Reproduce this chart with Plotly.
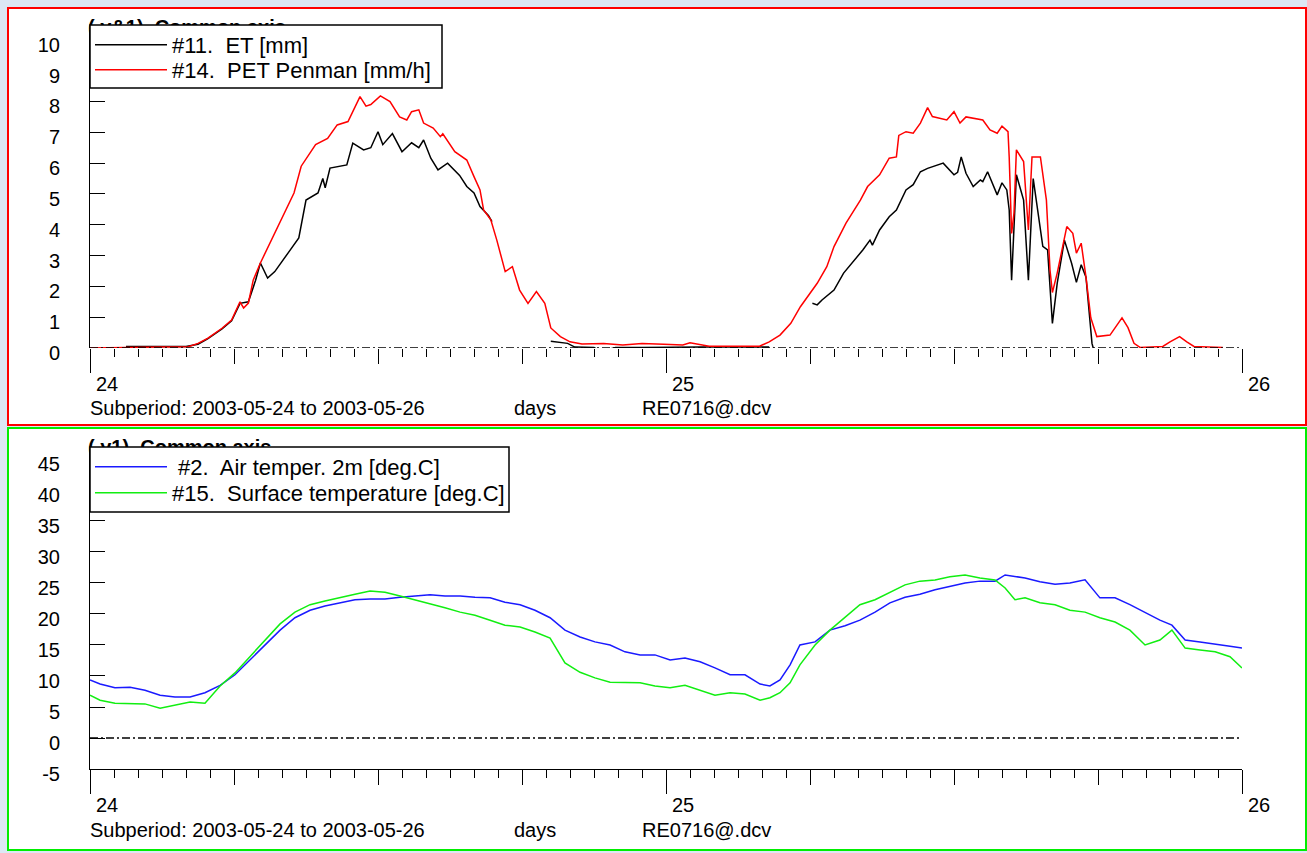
import plotly.graph_objects as go

# ---------------- data (hours from 2003-05-24 00:00) ----------------
et_hours = [1.5, 2, 3, 4, 4.5, 4.9, 5.5, 5.9, 6.25, 6.6, 6.9, 7.1, 7.4, 7.7, 8.25, 8.7, 9.0, 9.5, 9.7, 9.8,
            10.0, 10.7, 10.95, 11.4, 11.7, 12.0, 12.2, 12.6, 13.0, 13.4, 13.7, 13.9, 14.2, 14.5, 14.9,
            15.4, 15.7, 16.0, 16.25, 16.6, 16.75, 17.0,
            19.2, 19.5, 19.9, 20.2, 21.0, 21.2, 21.4, 21.6, 21.9, 23.0, 24.0, 25.5, 27.0, 28.3, 29.0,
            30.1, 30.3, 30.5, 31.0, 31.4, 31.8, 32.2, 32.5, 32.6, 32.9, 33.3, 33.6, 34.0, 34.3, 34.6,
            34.9, 35.3, 35.55, 36.0, 36.15, 36.3, 36.5, 36.8, 37.1, 37.2, 37.4, 37.8, 38.0, 38.2, 38.3,
            38.4, 38.6, 38.9, 39.1, 39.3, 39.7, 39.9, 40.1, 40.3, 40.6, 40.9, 41.1, 41.3, 41.5, 41.75, 41.8]
et_values = [0.05, 0.05, 0.05, 0.05, 0.12, 0.3, 0.62, 0.88, 1.45, 1.5, 2.2, 2.76, 2.27, 2.48, 3.08, 3.57, 4.8, 5.03, 5.5, 5.2,
             5.84, 5.94, 6.65, 6.43, 6.5, 7.02, 6.6, 6.96, 6.37, 6.66, 6.5, 6.75, 6.16, 5.78, 6.0,
             5.6, 5.24, 5.03, 4.59, 4.3, 4.1, None,
             0.22, 0.2, 0.15, 0.03, 0.02, -0.08, -0.1, -0.05, 0.02, 0.02, 0.03, 0.03, 0.03, 0.03, None,
             1.45, 1.4, 1.56, 1.88, 2.43, 2.8, 3.18, 3.5, 3.34, 3.83, 4.26, 4.48, 5.13, 5.3, 5.72,
             5.83, 5.94, 6.0, 5.62, 5.7, 6.2, 5.67, 5.24, 5.45, 5.4, 5.72, 4.97, 5.36, 5.13, 4.48,
             2.2, 5.62, 4.8, 2.2, 5.5, 3.3, 3.18, 0.8, 2.1, 3.5, 2.75, 2.13, 2.7, 2.3, 0.15, 0.0]

pet_hours = [0, 1, 1.5, 3, 4.1, 4.5, 4.9, 5.5, 5.9, 6.25, 6.4, 6.6, 6.8, 7.1, 7.7, 8.1, 8.5, 8.8, 9.4, 9.9,
             10.3, 10.75, 11.0, 11.25, 11.5, 11.7, 12.1, 12.5, 12.9, 13.2, 13.4, 13.7, 13.9, 14.3, 14.6,
             14.7, 15.2, 15.7, 16.0, 16.25, 16.4, 16.7, 16.95, 17.3, 17.6, 17.9, 18.25, 18.6, 18.95,
             19.2, 19.6, 20.0, 20.5, 21.4, 22.2, 23.0, 23.9, 24.7, 25.0, 25.8, 27.9, 28.3, 28.75, 29.2,
             29.6, 29.9, 30.3, 30.7, 31.0, 31.5, 32.1, 32.4, 32.9, 33.3, 33.6, 33.7, 34.0, 34.3, 34.6,
             34.9, 35.1, 35.7, 36.0, 36.25, 36.5, 37.2, 37.5, 37.8, 38.0, 38.25, 38.3, 38.4, 38.5, 38.6,
             38.9, 39.1, 39.25, 39.6, 39.85, 40.0, 40.1, 40.3, 40.7, 40.95, 41.1, 41.3, 41.5, 41.7,
             41.95, 42.5, 43.0, 43.25, 43.5, 43.75, 44.7, 45.0, 45.4, 45.7, 46.0, 47.2]
pet_values = [0, 0, 0.02, 0.03, 0.04, 0.15, 0.31, 0.64, 0.91, 1.5, 1.3, 1.46, 2.2, 2.76, 3.73, 4.38, 5.03, 5.9, 6.6, 6.8,
              7.24, 7.35, 7.73, 8.16, 7.85, 7.9, 8.18, 8.0, 7.5, 7.4, 7.67, 7.73, 7.3, 7.14, 6.86,
              6.95, 6.37, 6.1, 5.56, 5.13, 4.48, 4.16, 3.5, 2.48, 2.64, 1.88, 1.45, 1.83, 1.45,
              0.65, 0.37, 0.2, 0.13, 0.15, 0.1, 0.15, 0.12, 0.1, 0.17, 0.06, 0.06, 0.2, 0.42, 0.8,
              1.34, 1.67, 2.1, 2.64, 3.29, 4.05, 4.8, 5.24, 5.62, 6.16, 6.2, 6.9, 7.02, 6.97, 7.3,
              7.8, 7.51, 7.4, 7.67, 7.3, 7.5, 7.4, 7.08, 6.97, 7.2, 7.02, 6.2, 3.72, 4.38, 6.43,
              6.05, 3.83, 6.2, 6.2, 4.8, 2.53, 1.8, 2.43, 3.94, 3.72, 3.08, 3.4, 2.3, 0.98,
              0.37, 0.42, 0.98, 0.66, 0.15, 0.02, 0.05, 0.2, 0.37, 0.2, 0.05, 0.02]

temp_hours = [0, 0.42, 1.04, 1.67, 2.29, 2.92, 3.54, 4.17, 4.79, 5.42, 6.04, 6.67, 7.29, 7.92, 8.54, 9.17,
              9.79, 10.42, 11.04, 11.67, 12.29, 12.92, 13.54, 14.17, 14.79, 15.42, 16.04, 16.67, 17.29,
              17.92, 18.54, 19.17, 19.79, 20.42, 21.04, 21.67, 22.29, 22.92, 23.54, 24.17, 24.79, 25.42,
              26.04, 26.67, 27.29, 27.92, 28.33, 28.75, 29.17, 29.58, 30.21, 30.83, 31.46, 32.08, 32.71,
              33.33, 33.96, 34.58, 35.21, 35.83, 36.46, 37.08, 37.71, 38.13, 38.54, 38.96, 39.58, 40.21,
              40.83, 41.46, 42.08, 42.71, 43.33, 43.96, 44.58, 45.08, 45.63, 46.25, 46.88, 47.5, 48.0]
air_temp = [9.35, 8.7, 8.1, 8.2, 7.7, 6.9, 6.6, 6.6, 7.3, 8.5, 10.2, 12.6, 15.0, 17.4, 19.4, 20.6,
            21.3, 21.8, 22.3, 22.4, 22.4, 22.7, 22.9, 23.1, 22.9, 22.9, 22.7, 22.6, 21.9,
            21.5, 20.6, 19.4, 17.4, 16.3, 15.5, 15.0, 13.9, 13.4, 13.4, 12.6, 12.9, 12.3,
            11.3, 10.2, 10.2, 8.7, 8.4, 9.35, 11.8, 15.0, 15.5, 17.4, 18.1, 19.0, 20.3,
            21.8, 22.7, 23.2, 23.9, 24.4, 25.0, 25.3, 25.3, 26.3, 26.1, 25.8, 25.2, 24.8,
            25.0, 25.5, 22.6, 22.6, 21.5, 20.2, 19.0, 18.2, 15.8, 15.5, 15.2, 14.8, 14.5]
surf_temp = [6.9, 6.1, 5.6, 5.5, 5.5, 4.8, 5.3, 5.8, 5.6, 8.4, 10.5, 13.1, 15.8, 18.4, 20.3, 21.5,
             22.1, 22.7, 23.2, 23.7, 23.5, 22.9, 22.3, 21.6, 21.0, 20.3, 19.8, 19.0, 18.2,
             17.9, 17.1, 16.1, 12.1, 10.6, 9.7, 9.0, 8.9, 8.9, 8.4, 8.1, 8.5, 7.7,
             6.9, 7.3, 7.1, 6.1, 6.5, 7.3, 8.9, 11.8, 15.0, 17.4, 19.5, 21.5, 22.3,
             23.5, 24.7, 25.3, 25.5, 26.0, 26.3, 25.8, 25.5, 24.2, 22.3, 22.6, 21.8, 21.5,
             20.6, 20.3, 19.4, 18.7, 17.4, 15.0, 15.8, 17.4, 14.5, 14.2, 13.9, 13.1, 11.3]

day_ticks = [0, 24, 48]
day_labels = ["24", "25", "26"]
et_ticks = [0, 1, 2, 3, 4, 5, 6, 7, 8, 9, 10]
et_labels = ["0", "1", "2", "3", "4", "5", "6", "7", "8", "9", "10"]
t_ticks = [-5, 0, 5, 10, 15, 20, 25, 30, 35, 40, 45]
t_labels = ["-5", "0", "5", "10", "15", "20", "25", "30", "35", "40", "45"]

W, H = 1307, 853
FONT = "Liberation Sans, Arial, sans-serif"


def px(x):
    return x / W


def py(y):
    return 1 - y / H


fig = go.Figure()

fig.add_trace(go.Scatter(x=et_hours, y=et_values, mode="lines", name="#11.\u00a0 ET [mm]",
                         line=dict(color="#000000", width=1.5), xaxis="x", yaxis="y",
                         legend="legend", connectgaps=False))
fig.add_trace(go.Scatter(x=pet_hours, y=pet_values, mode="lines", name="#14.\u00a0 PET Penman [mm/h]",
                         line=dict(color="#ff0000", width=1.5), xaxis="x", yaxis="y", legend="legend3"))
fig.add_trace(go.Scatter(x=temp_hours, y=air_temp, mode="lines", name="\u00a0#2.\u00a0 Air temper. 2m [deg.C]",
                         line=dict(color="#1a1aff", width=1.5), xaxis="x2", yaxis="y2", legend="legend2"))
fig.add_trace(go.Scatter(x=temp_hours, y=surf_temp, mode="lines", name="#15.\u00a0 Surface temperature [deg.C]",
                         line=dict(color="#11ee11", width=1.5), xaxis="x2", yaxis="y2", legend="legend4"))

# carriers for the day-tick axes
fig.add_trace(go.Scatter(x=day_ticks, y=[None] * 3, mode="lines", xaxis="x3", yaxis="y",
                         showlegend=False, hoverinfo="skip"))
fig.add_trace(go.Scatter(x=day_ticks, y=[None] * 3, mode="lines", xaxis="x4", yaxis="y2",
                         showlegend=False, hoverinfo="skip"))

# panel titles (mostly hidden behind the legend boxes)
fig.add_trace(go.Scatter(x=[0], y=[0.5], mode="text", text=["(\u00a0y&1)\u00a0 Common axis"],
                         textposition="middle right", showlegend=False,
                         textfont=dict(family=FONT, size=20, color="black", weight="bold"),
                         xaxis="x5", yaxis="y5", hoverinfo="skip"))
fig.add_trace(go.Scatter(x=[0], y=[0.5], mode="text", text=["(\u00a0y1)\u00a0 Common axis"],
                         textposition="middle right", showlegend=False,
                         textfont=dict(family=FONT, size=20, color="black", weight="bold"),
                         xaxis="x6", yaxis="y6", hoverinfo="skip"))

xdom = [px(90), px(1242)]
tick_font = dict(family=FONT, size=20, color="black")

minor_common = dict(tick0=0, dtick=1, ticklen=8, ticks="outside", tickcolor="black", tickwidth=1, showgrid=False)


def main_x(anchor, show_line):
    return dict(domain=xdom, range=[0, 48], anchor=anchor, tickmode="linear", tick0=0, dtick=6,
                ticks="outside", ticklen=15, tickcolor="black", tickwidth=1, showticklabels=False,
                showline=show_line, linecolor="black", linewidth=1, showgrid=False, zeroline=False,
                minor=minor_common, fixedrange=True, automargin=False)


def day_x(anchor, over):
    return dict(overlaying=over, range=[0, 48], anchor=anchor, side="bottom", tickmode="array",
                tickvals=day_ticks, ticktext=day_labels, ticks="outside", ticklen=24, tickcolor="black",
                tickwidth=1, ticklabelshift=17, ticklabelstandoff=-6, tickfont=tick_font,
                showline=False, showgrid=False, zeroline=False, fixedrange=True, automargin=False)


def y_ax(dom, rng, vals, labels, anchor):
    return dict(domain=dom, range=rng, anchor=anchor, tickmode="array", tickvals=vals, ticktext=labels,
                ticks="inside", ticklen=15, tickcolor="black", tickwidth=1, showline=True,
                linecolor="black", linewidth=1, showgrid=False, zeroline=False, tickfont=tick_font,
                ticklabelshift=5, ticklabelstandoff=25, fixedrange=True, automargin=False)


def hidden_ax(dom, anchor):
    return dict(domain=dom, range=[0, 1], anchor=anchor, visible=False, fixedrange=True, automargin=False)


def legend_row(ycen):
    return dict(x=px(90), y=py(ycen), xanchor="left", yanchor="middle", bgcolor="rgba(0,0,0,0)",
                borderwidth=0, font=dict(family=FONT, size=22, color="black"), itemwidth=72)


fig.update_layout(
    width=W, height=H, margin=dict(l=0, r=0, t=0, b=0, pad=0, autoexpand=False),
    paper_bgcolor="#dce7f4", plot_bgcolor="rgba(0,0,0,0)",
    font=dict(family=FONT, size=20, color="black"),
    xaxis=main_x("y", False),
    xaxis3=day_x("y", "x"),
    yaxis=y_ax([py(348), py(30)], [0, 10.32], et_ticks, et_labels, "x"),
    xaxis2=main_x("y2", True),
    xaxis4=day_x("y2", "x2"),
    yaxis2=y_ax([py(769), py(449)], [-5, 46.61], t_ticks, t_labels, "x2"),
    xaxis5=hidden_ax([px(88), px(700)], "y5"),
    yaxis5=hidden_ax([py(48), py(10)], "x5"),
    xaxis6=hidden_ax([px(88), px(700)], "y6"),
    yaxis6=hidden_ax([py(468), py(430)], "x6"),
    legend=legend_row(45),
    legend3=legend_row(70),
    legend2=legend_row(467),
    legend4=legend_row(493),
    showlegend=True,
)

# panel frames
fig.add_shape(type="rect", xref="paper", yref="paper", x0=px(8), x1=px(1306), y0=py(425), y1=py(8),
              line=dict(color="#ff0000", width=2), fillcolor="white", layer="below")
fig.add_shape(type="rect", xref="paper", yref="paper", x0=px(8), x1=px(1306), y0=py(850), y1=py(428),
              line=dict(color="#00ee00", width=2), fillcolor="white", layer="below")

# legend frames (white boxes above the curves)
fig.add_shape(type="rect", xref="paper", yref="paper", x0=px(90), x1=px(442), y0=py(88), y1=py(25),
              line=dict(color="black", width=1.5), fillcolor="white", layer="above")
fig.add_shape(type="rect", xref="paper", yref="paper", x0=px(90), x1=px(509), y0=py(512), y1=py(447),
              line=dict(color="black", width=1.5), fillcolor="white", layer="above")

# zero reference lines (dash-dot)
for xr, yr in (("x", "y"), ("x2", "y2")):
    fig.add_shape(type="line", xref=xr, yref=yr, x0=0, x1=48, y0=0, y1=0,
                  line=dict(color="black", width=1.3, dash="8px,3px,2px,3px"), layer="above")

# footer texts
for ycen in (408, 830):
    for xl, txt in ((88, "Subperiod: 2003-05-24 to 2003-05-26"), (512, "days"), (640, "RE0716@.dcv")):
        fig.add_annotation(x=px(xl), y=py(ycen), xref="paper", yref="paper", text=txt, showarrow=False,
                           xanchor="left", yanchor="middle", font=dict(family=FONT, size=20, color="black"))

fig.write_html("out.html")
